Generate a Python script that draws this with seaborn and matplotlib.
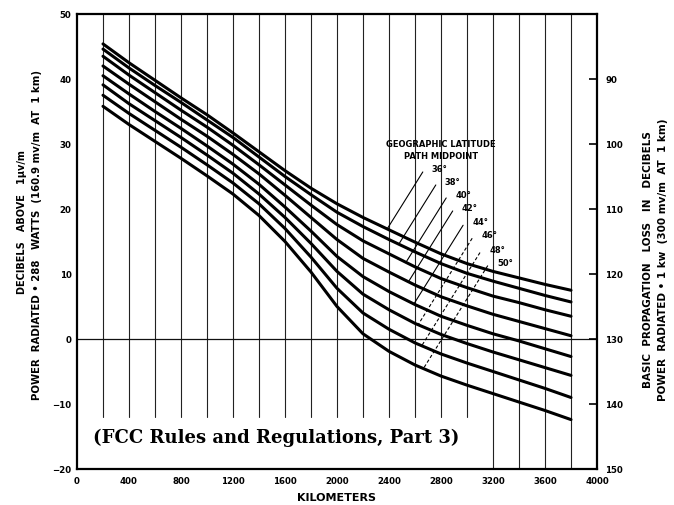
import matplotlib
matplotlib.use("Agg")
import matplotlib.pyplot as plt
import numpy as np
import pandas as pd
import seaborn as sns

# --- data ---
KM = [200, 400, 600, 800, 1000, 1200, 1400, 1600, 1800, 2000,
      2200, 2400, 2600, 2800, 3000, 3200, 3400, 3600, 3800]

LATITUDES = ["36°", "38°", "40°", "42°", "44°", "46°", "48°", "50°"]

DB_36 = [45.4, 42.5, 39.8, 37.1, 34.5, 31.7, 28.8, 25.9, 23.2, 20.8,
         18.7, 16.8, 14.9, 13.1, 11.6, 10.4, 9.4, 8.4, 7.5]
DB_38 = [44.6, 41.7, 39.0, 36.4, 33.7, 31.0, 28.0, 25.0, 22.2, 19.5,
         17.3, 15.3, 13.4, 11.6, 10.1, 8.9, 7.8, 6.7, 5.7]
DB_40 = [43.5, 40.6, 37.9, 35.2, 32.6, 29.8, 26.8, 23.7, 20.6, 17.6,
         15.1, 13.1, 11.1, 9.3, 7.9, 6.6, 5.6, 4.5, 3.5]
DB_42 = [42.0, 39.2, 36.5, 33.8, 31.2, 28.4, 25.4, 22.1, 18.7, 15.3,
         12.4, 10.3, 8.3, 6.5, 5.1, 3.8, 2.7, 1.6, 0.5]
DB_44 = [40.5, 37.7, 35.0, 32.4, 29.7, 26.9, 23.8, 20.3, 16.6, 12.7,
         9.6, 7.3, 5.3, 3.5, 2.1, 0.8, -0.3, -1.5, -2.7]
DB_46 = [39.1, 36.2, 33.6, 31.0, 28.3, 25.5, 22.3, 18.7, 14.7, 10.4,
         6.9, 4.5, 2.4, 0.7, -0.7, -2.0, -3.2, -4.4, -5.6]
DB_48 = [37.5, 34.7, 32.1, 29.5, 26.8, 24.0, 20.8, 17.0, 12.6, 7.8,
         4.0, 1.5, -0.6, -2.3, -3.7, -5.0, -6.3, -7.6, -9.0]
DB_50 = [35.8, 33.0, 30.4, 27.8, 25.1, 22.3, 19.0, 15.0, 10.3, 5.0,
         0.8, -1.9, -4.0, -5.7, -7.1, -8.4, -9.7, -11.0, -12.4]

X_TICK_LABELS = [0, 400, 800, 1200, 1600, 2000, 2400, 2800, 3200, 3600, 4000]
LEFT_TICKS = [-20, -10, 0, 10, 20, 30, 40, 50]
RIGHT_TICKS = [90, 100, 110, 120, 130, 140, 150]

SERIES = [DB_36, DB_38, DB_40, DB_42, DB_44, DB_46, DB_48, DB_50]


def build_frame():
    rows = []
    for lat, vals in zip(LATITUDES, SERIES):
        for km, db in zip(KM, vals):
            rows.append({"km": km, "db": db, "lat": lat})
    return pd.DataFrame(rows)


def leader_end(x0, y0, vals):
    # walk down-left along a fixed slant until the curve is reached
    for t in np.linspace(0, 250, 1001):
        x = x0 - t * 7.69
        y = y0 - t * 0.246
        if y <= np.interp(x, KM, vals):
            return x, y
    return x0, y0


def main():
    sns.set_theme(style="white")
    plt.rcParams["font.family"] = ["DejaVu Sans"]
    for key in ["text.color", "axes.labelcolor", "xtick.color", "ytick.color"]:
        plt.rcParams[key] = "black"
    df = build_frame()

    fig = plt.figure(figsize=(6.74, 5.06), dpi=100)
    ax = fig.add_axes([77 / 674, 1 - 470 / 506, 520 / 674, 455 / 506])

    # vertical rulings every 200 km (short ones stop above the caption) and 0 dB line
    for x in range(200, 4000, 200):
        ymin = 0.0 if x >= 3200 else 0.115
        ax.axvline(x, ymin=ymin, color="#222222", lw=0.8, zorder=1)
    ax.axhline(0, color="#111111", lw=0.9, zorder=1)

    sns.lineplot(data=df, x="km", y="db", hue="lat", units="lat",
                 estimator=None, palette=["black"] * len(LATITUDES),
                 lw=2.2, legend=False, ax=ax, zorder=3)

    ax.set_xlim(0, 4000)
    ax.set_ylim(-20, 50)
    ax.set_xticks(range(0, 4001, 200))
    ax.set_xticklabels([str(v) if v in X_TICK_LABELS else "" for v in range(0, 4001, 200)])
    ax.set_yticks(LEFT_TICKS)
    ax.tick_params(axis="x", direction="in", length=5, width=1.2, pad=5,
                   labelsize=6.2, color="black")
    ax.tick_params(axis="y", direction="in", length=0, pad=4, labelsize=6.2)
    for lab in ax.get_xticklabels() + ax.get_yticklabels():
        lab.set_fontweight("bold")
    for sp in ax.spines.values():
        sp.set_color("black")
        sp.set_linewidth(1.6)
    ax.set_xlabel("KILOMETERS", fontsize=8, fontweight="bold", labelpad=5)
    ax.set_ylabel("")

    ax2 = ax.twinx()
    ax2.set_ylim(150, 80)
    ax2.set_yticks(RIGHT_TICKS)
    ax2.tick_params(axis="y", direction="in", length=6, width=1.2, pad=6,
                    labelsize=6.2)
    for lab in ax2.get_yticklabels():
        lab.set_fontweight("bold")
    for sp in ax2.spines.values():
        sp.set_visible(False)
    ax2.grid(False)
    ax.grid(False)

    # axis titles
    fig.text(22 / 674, 1 - 222 / 506, "DECIBELS   ABOVE   1\u03bcv/m",
             rotation=90, ha="center", va="center", fontsize=7, fontweight="bold")
    fig.text(37 / 674, 1 - 235 / 506,
             "POWER  RADIATED \u2022 288   WATTS  (160.9 mv/m  AT  1 km)",
             rotation=90, ha="center", va="center", fontsize=7.3, fontweight="bold")
    fig.text(648 / 674, 1 - 260 / 506, "BASIC  PROPAGATION   LOSS   IN   DECIBELS",
             rotation=90, ha="center", va="center", fontsize=7.5, fontweight="bold")
    fig.text(663 / 674, 1 - 260 / 506,
             "POWER  RADIATED \u2022 1 kw  (300 mv/m  AT  1 km)",
             rotation=90, ha="center", va="center", fontsize=7.5, fontweight="bold")

    # legend block
    ax.text(2800, 30.0, "GEOGRAPHIC LATITUDE", ha="center", va="center",
            fontsize=6, fontweight="bold")
    ax.text(2800, 28.2, "PATH MIDPOINT", ha="center", va="center",
            fontsize=6, fontweight="bold")
    label_pos = [(2730, 26.2), (2830, 24.2), (2910, 22.2), (2960, 20.2),
                 (3040, 18.0), (3110, 16.0), (3170, 13.8), (3230, 11.8)]
    for i, (lat, vals) in enumerate(zip(LATITUDES, SERIES)):
        tx, ty = label_pos[i]
        ax.text(tx, ty, lat, ha="left", va="center", fontsize=6, fontweight="bold")
        sx, sy = tx - 70, ty - 0.5
        ex, ey = leader_end(sx, sy, vals)
        ls = "-" if i < 5 else (0, (3, 2))
        ax.plot([sx, ex], [sy, ey], color="black", lw=0.8, ls=ls, zorder=2)

    ax.text(1530, -15.1, "(FCC Rules and Regulations, Part 3)", ha="center",
            va="center", fontsize=13, fontweight="bold", family="DejaVu Serif")

    fig.savefig("out.png", dpi=100)
    plt.close(fig)


if __name__ == "__main__":
    main()
